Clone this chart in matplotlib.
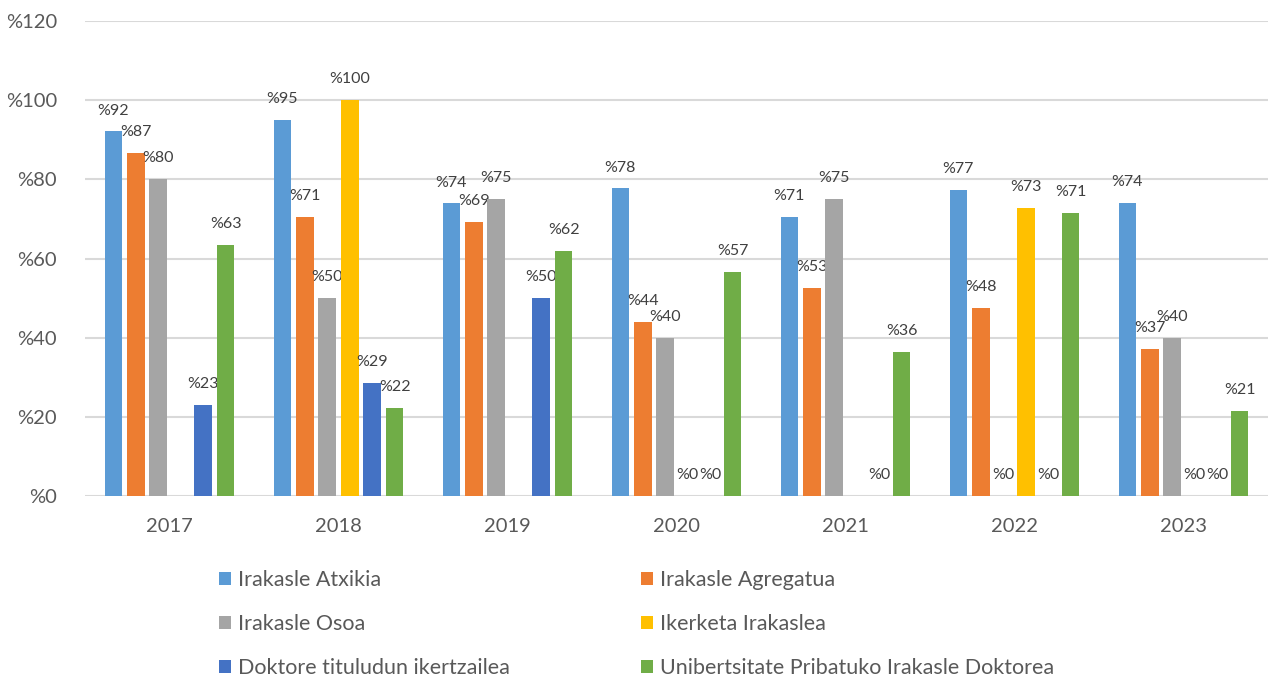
import numpy as np
import matplotlib
matplotlib.use("Agg")
import matplotlib.pyplot as plt
from matplotlib.patches import Patch

plt.rcParams['font.family'] = ['Lato', 'DejaVu Sans']

years = ['2017', '2018', '2019', '2020', '2021', '2022', '2023']
series_names = ['Irakasle Atxikia', 'Irakasle Agregatua', 'Irakasle Osoa',
                'Ikerketa Irakaslea', 'Doktore tituludun ikertzailea',
                'Unibertsitate Pribatuko Irakasle Doktorea']
nan = np.nan
atxikia = [92.1, 94.9, 73.9, 77.7, 70.6, 77.3, 74.0]
agregatua = [86.6, 70.6, 69.3, 44.0, 52.6, 47.6, 37.1]
osoa = [80.0, 50.0, 75.0, 40.0, 75.0, 0.0, 40.0]
ikerketa = [nan, 100.0, nan, 0.0, nan, 72.8, 0.0]
doktore = [23.1, 28.6, 50.0, 0.0, 0.0, 0.0, 0.0]
unibertsitate = [63.4, 22.3, 61.9, 56.6, 36.4, 71.4, 21.4]
all_series = [atxikia, agregatua, osoa, ikerketa, doktore, unibertsitate]
colors = ['#5B9BD5', '#ED7D31', '#A5A5A5', '#FFC000', '#4472C4', '#70AD47']

fig = plt.figure(figsize=(12.68, 6.81), dpi=100)
ax = fig.add_axes([85/1268, 1-496/681, 1-85/1268, (496-21)/681])

x = np.arange(len(years))
step = 0.133
width = 0.104
n = len(all_series)
for i, (vals, c) in enumerate(zip(all_series, colors)):
    pos = x + (i - (n-1)/2) * step
    v = np.array(vals, dtype=float)
    ax.bar(pos, v, width=width, color=c, zorder=3)
    for p, val in zip(pos, v):
        if np.isnan(val):
            continue
        ax.annotate(f"%{val:.0f}", (p, val), xytext=(0, 10), textcoords='offset points',
                    ha='center', va='bottom', fontsize=11.5, color='#404040')

ax.set_ylim(0, 120)
ax.set_xlim(-0.5, len(years)-0.5)
yt = np.arange(0, 121, 20)
ax.set_yticks(yt)
ax.set_yticklabels([f"%{t}" for t in yt])
ax.set_xticks(x)
ax.set_xticklabels(years)
ax.tick_params(axis='both', length=0, labelsize=14.5, colors='#595959')
ax.tick_params(axis='y', pad=20)
ax.tick_params(axis='x', pad=16)
ax.yaxis.grid(True, color='#D9D9D9', linewidth=1.5, zorder=0)
for s in ax.spines.values():
    s.set_visible(False)

handles = [Patch(facecolor=c, edgecolor='none') for c in colors]
common = dict(loc='upper left', frameon=False, fontsize=15.5, handlelength=0.55,
              handleheight=0.55, handletextpad=0.3, labelspacing=1.1,
              labelcolor='#595959')
fig.legend(handles[0::2], series_names[0::2],
           bbox_to_anchor=(200/1268, 1-551/681), **common)
fig.legend(handles[1::2], series_names[1::2],
           bbox_to_anchor=(622/1268, 1-551/681), **common)

fig.savefig('out.png', dpi=100)
